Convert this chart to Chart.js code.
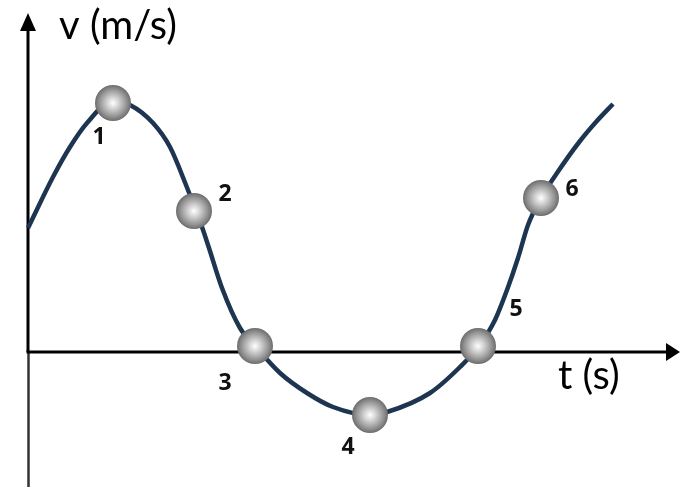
<!DOCTYPE html>
<html>
<head>
<meta charset="utf-8">
<script src="https://cdn.jsdelivr.net/npm/chart.js@4"></script>
<style>
    html, body { margin: 0; padding: 0; background: #ffffff; }
    #graph { display: block; }
</style>
</head>
<body>
<canvas id="graph" width="680" height="487"></canvas>
<script>
// velocity curve, time (s) vs velocity (m/s)
const curveT = [0, 2.5, 4.2, 5.9, 8.5, 10.2, 12.5, 14.2, 15.8, 17.4, 18.1, 19.4, 21.2, 22.7,
    25.2, 27.9, 30.5, 34.2, 35.9, 40.2, 43.2, 45.1, 46.7, 47.9, 49.0, 50.0, 51.3, 52.9, 55.2, 56.8, 58.5];
const curveV = [12.4, 17.5, 20.5, 22.9, 25.1, 24.7, 22.9, 20.5, 16.7, 12.5, 10.4, 6.4, 2.4, 0.6,
    -2.1, -4.1, -5.5, -6.3, -6.0, -4.1, -1.5, 0.6, 3.2, 6.2, 9.4, 12.7, 15.4, 17.9, 21.1, 23.0, 24.8];

// the six marked positions on the curve
const ballNames = ["1", "2", "3", "4", "5", "6"];
const ballT = [8.5, 16.6, 22.7, 34.2, 45.0, 51.3];
const ballV = [24.9, 14.1, 0.6, -6.3, 0.6, 15.4];

const axisLabelV = "v (m/s)";
const axisLabelT = "t (s)";

// shaded sphere used as the point style
function makeBall(r) {
    const c = document.createElement("canvas");
    c.width = r * 2;
    c.height = r * 2;
    const g = c.getContext("2d");
    const grad = g.createRadialGradient(r, r, 0, r, r, r);
    grad.addColorStop(0, "#ffffff");
    grad.addColorStop(0.3, "#d6d6d6");
    grad.addColorStop(0.75, "#949494");
    grad.addColorStop(1, "#6c6c6c");
    g.fillStyle = grad;
    g.beginPath();
    g.arc(r, r, r, 0, Math.PI * 2);
    g.fill();
    return c;
}

const ball = makeBall(18);

const axesPlugin = {
    id: "arrowAxes",
    beforeDatasetsDraw(chart) {
        const ctx = chart.ctx;
        const x0 = chart.scales.x.getPixelForValue(0);
        const y0 = chart.scales.y.getPixelForValue(0);
        const w = chart.width;
        const h = chart.height;

        ctx.save();
        ctx.strokeStyle = "#000000";
        ctx.fillStyle = "#000000";

        // vertical axis
        ctx.lineWidth = 3;
        ctx.beginPath();
        ctx.moveTo(x0, 28);
        ctx.lineTo(x0, y0);
        ctx.stroke();
        ctx.strokeStyle = "#333333";
        ctx.lineWidth = 2.5;
        ctx.beginPath();
        ctx.moveTo(x0 + 0.5, y0);
        ctx.lineTo(x0 + 0.5, h);
        ctx.stroke();

        ctx.beginPath();
        ctx.moveTo(x0, 13);
        ctx.lineTo(x0 - 8, 31);
        ctx.lineTo(x0 + 8, 31);
        ctx.closePath();
        ctx.fill();

        // horizontal axis
        ctx.strokeStyle = "#000000";
        ctx.lineWidth = 3;
        ctx.beginPath();
        ctx.moveTo(x0 - 1.5, y0);
        ctx.lineTo(w - 12, y0);
        ctx.stroke();

        ctx.beginPath();
        ctx.moveTo(w, y0);
        ctx.lineTo(w - 14, y0 - 9);
        ctx.lineTo(w - 14, y0 + 9);
        ctx.closePath();
        ctx.fill();

        // axis titles
        ctx.font = "40px Lato, 'Open Sans', sans-serif";
        ctx.textAlign = "left";
        ctx.textBaseline = "alphabetic";
        ctx.fillText(axisLabelV, x0 + 31, 39);
        ctx.fillText(axisLabelT, 558, 389);
        ctx.restore();
    },
    afterDatasetsDraw(chart) {
        const ctx = chart.ctx;
        const meta = chart.getDatasetMeta(0);
        // label offsets from each sphere centre
        const offsets = [[-14, 34], [31, -17], [-30, 37], [-22, 32], [38, -37], [31, -9]];
        ctx.save();
        ctx.font = "bold 23px 'Open Sans', 'Liberation Sans', sans-serif";
        ctx.fillStyle = "#111111";
        ctx.textAlign = "center";
        ctx.textBaseline = "middle";
        meta.data.forEach((pt, i) => {
            ctx.fillText(ballNames[i], pt.x + offsets[i][0], pt.y + offsets[i][1]);
        });
        ctx.restore();
    }
};

new Chart(document.getElementById("graph"), {
    type: "line",
    data: {
        datasets: [
            {
                data: ballT.map((t, i) => ({ x: t, y: ballV[i] })),
                showLine: false,
                pointStyle: ball,
                pointRadius: 18,
                order: 0
            },
            {
                data: curveT.map((t, i) => ({ x: t, y: curveV[i] })),
                borderColor: "#1d3550",
                borderWidth: 4.5,
                pointRadius: 0,
                cubicInterpolationMode: "monotone",
                fill: false,
                order: 1
            }
        ]
    },
    options: {
        responsive: false,
        animation: false,
        layout: { padding: 0, autoPadding: false },
        plugins: {
            legend: { display: false },
            tooltip: { enabled: false }
        },
        scales: {
            x: { type: "linear", min: -2.8, max: 65.2, display: false },
            y: { min: -13.5, max: 35.2, display: false }
        }
    },
    plugins: [axesPlugin]
});
</script>
</body>
</html>
